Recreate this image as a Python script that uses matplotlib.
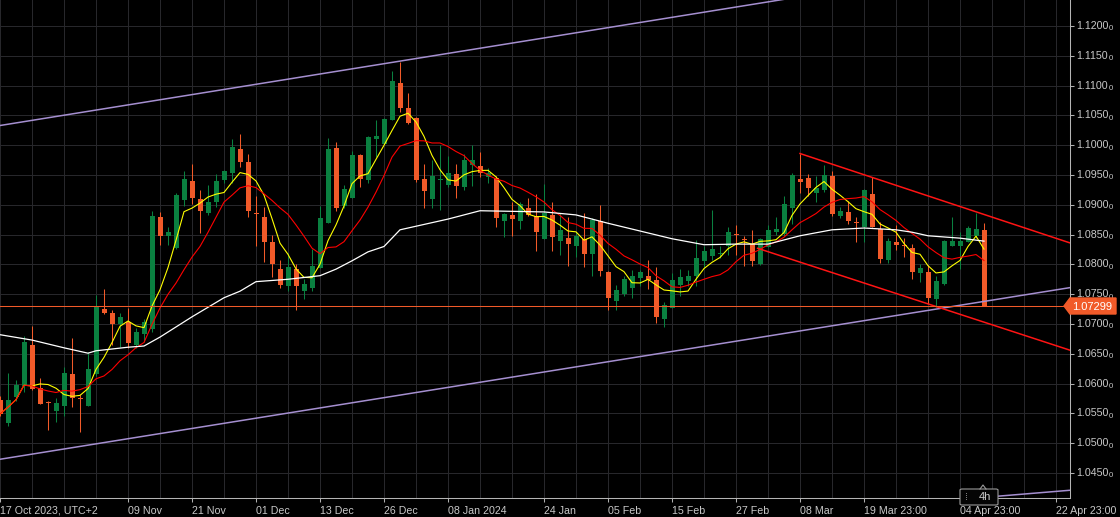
import numpy as np
import pandas as pd
import matplotlib
matplotlib.use('Agg')
import matplotlib.pyplot as plt
from matplotlib.ticker import MultipleLocator
from matplotlib.patches import Polygon, FancyBboxPatch

plt.rcParams['font.family'] = ['Liberation Sans', 'DejaVu Sans']

# daily OHLC (index 0 = 17 Oct 2023)
opens = [1.0572, 1.0534, 1.0578, 1.0596, 1.0665, 1.0593, 1.0568, 1.0554, 1.0562, 1.0616,
         1.0575, 1.0562, 1.0616, 1.0725, 1.0719, 1.0700, 1.0703, 1.0665, 1.0683, 1.0692,
         1.0879, 1.0848, 1.0827, 1.0908, 1.0940, 1.0910, 1.0886, 1.0904, 1.0942, 1.0954,
         1.0994, 1.0971, 1.0886, 1.0879, 1.0837, 1.0792, 1.0764, 1.0792, 1.0756, 1.0761,
         1.0794, 1.0870, 1.0995, 1.0898, 1.0912, 1.0983, 1.0942, 1.1010, 1.1002, 1.1042,
         1.1105, 1.1062, 1.1046, 1.0943, 1.0910, 1.0942, 1.0933, 1.0952, 1.0930, 1.0967,
         1.0965, 1.0947, 1.0945, 1.0872, 1.0883, 1.0873, 1.0894, 1.0882, 1.0843, 1.0883,
         1.0840, 1.0844, 1.0831, 1.0842, 1.0817, 1.0873, 1.0787, 1.0739, 1.0751, 1.0760,
         1.0777, 1.0781, 1.0774, 1.0708, 1.0726, 1.0765, 1.0772, 1.0781, 1.0806, 1.0814,
         1.0818, 1.0831, 1.0850, 1.0843, 1.0834, 1.0801, 1.0829, 1.0854, 1.0851, 1.0894,
         1.0943, 1.0945, 1.0920, 1.0925, 1.0949, 1.0881, 1.0888, 1.0870, 1.0862, 1.0918,
         1.0859, 1.0807, 1.0838, 1.0831, 1.0828, 1.0786, 1.0787, 1.0742, 1.0767, 1.0830,
         1.0830, 1.0838, 1.0848, 1.0858]
highs = [1.0579, 1.0618, 1.0606, 1.0680, 1.0697, 1.0609, 1.0570, 1.0576, 1.0627, 1.0676,
         1.0581, 1.0653, 1.0749, 1.0759, 1.0723, 1.0719, 1.0726, 1.0694, 1.0708, 1.0890,
         1.0888, 1.0863, 1.0920, 1.0956, 1.0968, 1.0925, 1.0933, 1.0952, 1.0958, 1.1010,
         1.1019, 1.0986, 1.0915, 1.0897, 1.0849, 1.0807, 1.0819, 1.0801, 1.0775, 1.0825,
         1.0898, 1.1012, 1.1005, 1.0933, 1.0990, 1.0985, 1.1015, 1.1042, 1.1045, 1.1124,
         1.1140, 1.1087, 1.1048, 1.0968, 1.0975, 1.1000, 1.0982, 1.0968, 1.0986, 1.1000,
         1.0988, 1.0961, 1.0948, 1.0887, 1.0904, 1.0904, 1.0911, 1.0918, 1.0935, 1.0904,
         1.0886, 1.0880, 1.0855, 1.0887, 1.0877, 1.0900, 1.0789, 1.0765, 1.0781, 1.0791,
         1.0791, 1.0807, 1.0796, 1.0737, 1.0786, 1.0792, 1.0791, 1.0841, 1.0830, 1.0891,
         1.0830, 1.0863, 1.0866, 1.0848, 1.0858, 1.0844, 1.0866, 1.0880, 1.0915, 1.0953,
         1.0986, 1.0951, 1.0948, 1.0967, 1.0956, 1.0897, 1.0906, 1.0880, 1.0926, 1.0946,
         1.0871, 1.0844, 1.0866, 1.0844, 1.0834, 1.0801, 1.0799, 1.0781, 1.0841, 1.0880,
         1.0855, 1.0865, 1.0886, 1.0870]
lows = [1.0546, 1.0529, 1.0570, 1.0586, 1.0589, 1.0565, 1.0522, 1.0536, 1.0546, 1.0560,
        1.0518, 1.0562, 1.0613, 1.0717, 1.0665, 1.0661, 1.0660, 1.0659, 1.0670, 1.0687,
        1.0833, 1.0833, 1.0826, 1.0898, 1.0901, 1.0852, 1.0883, 1.0897, 1.0936, 1.0936,
        1.0964, 1.0880, 1.0830, 1.0804, 1.0779, 1.0760, 1.0756, 1.0724, 1.0742, 1.0756,
        1.0794, 1.0869, 1.0890, 1.0894, 1.0912, 1.0930, 1.0936, 1.0980, 1.1002, 1.1042,
        1.1056, 1.1036, 1.0939, 1.0894, 1.0894, 1.0891, 1.0930, 1.0912, 1.0925, 1.0932,
        1.0947, 1.0936, 1.0862, 1.0846, 1.0848, 1.0859, 1.0881, 1.0823, 1.0843, 1.0823,
        1.0815, 1.0798, 1.0813, 1.0796, 1.0781, 1.0781, 1.0723, 1.0723, 1.0747, 1.0743,
        1.0764, 1.0758, 1.0702, 1.0695, 1.0726, 1.0747, 1.0764, 1.0763, 1.0796, 1.0807,
        1.0810, 1.0816, 1.0816, 1.0797, 1.0797, 1.0799, 1.0829, 1.0849, 1.0848, 1.0868,
        1.0919, 1.0915, 1.0904, 1.0921, 1.0881, 1.0878, 1.0868, 1.0837, 1.0838, 1.0862,
        1.0803, 1.0803, 1.0824, 1.0812, 1.0775, 1.0770, 1.0733, 1.0729, 1.0765, 1.0830,
        1.0792, 1.0838, 1.0844, 1.07299]
closes = [1.0549, 1.0572, 1.0598, 1.0670, 1.0591, 1.0566, 1.0567, 1.0567, 1.0617, 1.0576,
          1.0574, 1.0624, 1.0728, 1.0718, 1.0700, 1.0711, 1.0668, 1.0687, 1.0703, 1.0881,
          1.0848, 1.0854, 1.0916, 1.0943, 1.0911, 1.0890, 1.0905, 1.0940, 1.0957, 1.0997,
          1.0971, 1.0890, 1.0885, 1.0838, 1.0800, 1.0765, 1.0796, 1.0763, 1.0767, 1.0797,
          1.0878, 1.0994, 1.0895, 1.0926, 1.0984, 1.0943, 1.1013, 1.1015, 1.1044, 1.1108,
          1.1063, 1.1038, 1.0942, 1.0923, 1.0948, 1.0943, 1.0953, 1.0932, 1.0975, 1.0975,
          1.0953, 1.0954, 1.0877, 1.0885, 1.0876, 1.0901, 1.0883, 1.0855, 1.0887, 1.0846,
          1.0858, 1.0834, 1.0848, 1.0817, 1.0874, 1.0789, 1.0744, 1.0757, 1.0775, 1.0781,
          1.0787, 1.0774, 1.0711, 1.0732, 1.0774, 1.0778, 1.0781, 1.0810, 1.0822, 1.0826,
          1.0819, 1.0854, 1.0849, 1.0841, 1.0806, 1.0843, 1.0858, 1.0859, 1.0901, 1.0950,
          1.0939, 1.0928, 1.0928, 1.0950, 1.0885, 1.0890, 1.0873, 1.0869, 1.0925, 1.0863,
          1.0809, 1.0840, 1.0833, 1.0830, 1.0788, 1.0794, 1.0744, 1.0772, 1.0839, 1.0839,
          1.0839, 1.0861, 1.0859, 1.07299]

# slow moving average (white), sampled from the chart
slow_ma_idx = [0, 4, 8, 11, 12, 16, 18, 20, 24, 28, 30, 32, 36, 40, 42, 44, 46, 48, 50, 52,
               56, 60, 64, 68, 72, 76, 80, 84, 88, 92, 96, 98, 100, 104, 108, 112, 114, 116,
               120, 123]
slow_ma = [1.0682, 1.0673, 1.0660, 1.0651, 1.0655, 1.0661, 1.0663, 1.0678, 1.0712, 1.0744,
           1.0755, 1.0771, 1.0775, 1.0781, 1.0792, 1.0806, 1.0821, 1.0830, 1.0858, 1.0864,
           1.0876, 1.0890, 1.0889, 1.0888, 1.0883, 1.0869, 1.0856, 1.0843, 1.0833, 1.0834,
           1.0834, 1.0841, 1.0848, 1.0858, 1.0861, 1.0858, 1.0854, 1.0848, 1.0844, 1.0839]

# drawn objects
channel_top = ([0, 133.75], [1.1033, 1.1322])
channel_bottom = ([0, 133.75], [1.0473, 1.0761])
channel_low2 = ([123.8, 133.75], [1.0410, 1.0421])
wedge_top = ([100, 133.75], [1.0986, 1.0836])
wedge_bottom = ([94.7, 133.75], [1.0827, 1.0656])
last_price = 1.07299

tick_pos = [0.05, 16, 24, 32, 40, 48, 56, 68, 76, 84, 92, 100, 108, 120, 132]
tick_labels = ['17 Oct 2023, UTC+2', '09 Nov', '21 Nov', '01 Dec', '13 Dec', '26 Dec',
               '08 Jan 2024', '24 Jan', '05 Feb', '15 Feb', '27 Feb', '08 Mar',
               '19 Mar 23:00', '04 Apr 23:00', '22 Apr 23:00']
price_levels = np.arange(1.045, 1.12001, 0.005)

GREEN = '#0a8040'
ORANGE = '#f15a29'
TXT = '#c8c8c8'
GRID = '#27272b'

W, H = 1120, 517
fig = plt.figure(figsize=(W / 100, H / 100), dpi=100, facecolor='black')
ax = fig.add_axes([0, 19 / H, 1070 / W, 498 / H], facecolor='black')
ax.set_xlim(0, 133.75)
ax.set_ylim(1.04080, 1.12436)

o = np.array(opens)
c = np.array(closes)
idx = np.arange(len(o))
cols = np.where(c >= o, GREEN, ORANGE)

ax.vlines(idx, lows, highs, colors=cols, lw=0.75, zorder=3)
ax.bar(idx, np.maximum(np.abs(c - o), 0.00017), bottom=np.minimum(o, c), width=0.625,
       color=cols, lw=0, zorder=3)

cs = pd.Series(closes)
ax.plot(idx, cs.rolling(5, min_periods=1).mean(), color='#ffff00', lw=0.8, zorder=4)
ax.plot(idx, cs.rolling(10, min_periods=1).mean(), color='#ff0000', lw=0.8, zorder=4)
ax.plot(slow_ma_idx, slow_ma, color='white', lw=0.9, zorder=4)

for xs, ys in [channel_top, channel_bottom, channel_low2]:
    ax.plot(xs, ys, color='#a58fd0', lw=1.1, zorder=5)
for xs, ys in [wedge_top, wedge_bottom]:
    ax.plot(xs, ys, color='#ff1414', lw=1.1, zorder=5)
ax.axhline(last_price, color=ORANGE, lw=0.75, zorder=5)

# grid / axes
ax.set_yticks(price_levels)
ax.set_xticks(tick_pos)
ax.set_xticklabels(tick_labels)
ax.xaxis.set_minor_locator(MultipleLocator(4))
ax.grid(which='both', axis='x', color=GRID, lw=0.75)
ax.grid(which='major', axis='y', color=GRID, lw=0.75)
ax.set_axisbelow(True)
ax.yaxis.tick_right()
ax.tick_params(axis='y', labelright=False, length=3, width=0.75, color='#b0b0b0')
ax.tick_params(axis='x', which='major', length=3, width=0.75, color='#b0b0b0',
               labelcolor=TXT, labelsize=7.7, pad=2.5)
ax.tick_params(axis='x', which='minor', length=0)
for lbl in ax.get_xticklabels():
    lbl.set_ha('left')
for s in ['top', 'left']:
    ax.spines[s].set_visible(False)
for s in ['right', 'bottom']:
    ax.spines[s].set_color('#b4b4b4')
    ax.spines[s].set_linewidth(0.75)

for p in price_levels:
    ax.annotate(f'{p:.4f}', xy=(1, p), xycoords=('axes fraction', 'data'),
                xytext=(6, 0), textcoords='offset pixels', va='center', ha='left',
                color=TXT, fontsize=7.7, annotation_clip=False)
    ax.annotate('0', xy=(1, p), xycoords=('axes fraction', 'data'),
                xytext=(38.5, -3), textcoords='offset pixels', va='center', ha='left',
                color=TXT, fontsize=5.6, annotation_clip=False)


def px(x, y):
    return (x / W, 1 - y / H)


# last price tag
tag = Polygon([px(1064, 306), px(1070, 298), px(1116, 298), px(1116, 314), px(1070, 314)],
              closed=True, transform=fig.transFigure, color=ORANGE, zorder=10)
fig.patches.append(tag)
fig.text(*px(1092, 306.5), f'{last_price:.5f}', color='white', fontsize=8,
         ha='center', va='center', zorder=11)

# timeframe box
box = FancyBboxPatch(px(960, 505), 38 / W, 16 / H, boxstyle='round,pad=0,rounding_size=0.002',
                     transform=fig.transFigure, facecolor='#050505', edgecolor='#9a9a9a',
                     lw=0.8, zorder=10)
fig.patches.append(box)
fig.text(*px(985, 497.5), '4h', color='#d0d0d0', fontsize=8, ha='center', va='center', zorder=11)
fig.text(*px(966, 497), '⁞', color='#9a9a9a', fontsize=7, ha='center', va='center',
         family=['DejaVu Sans'], zorder=11)
fig.lines.append(plt.Line2D([980 / W, 983 / W, 986 / W], [1 - 489 / H, 1 - 485 / H, 1 - 489 / H],
                            transform=fig.transFigure, color='#9a9a9a', lw=0.8, zorder=11))

fig.savefig('out.png', dpi=100, facecolor='black')
